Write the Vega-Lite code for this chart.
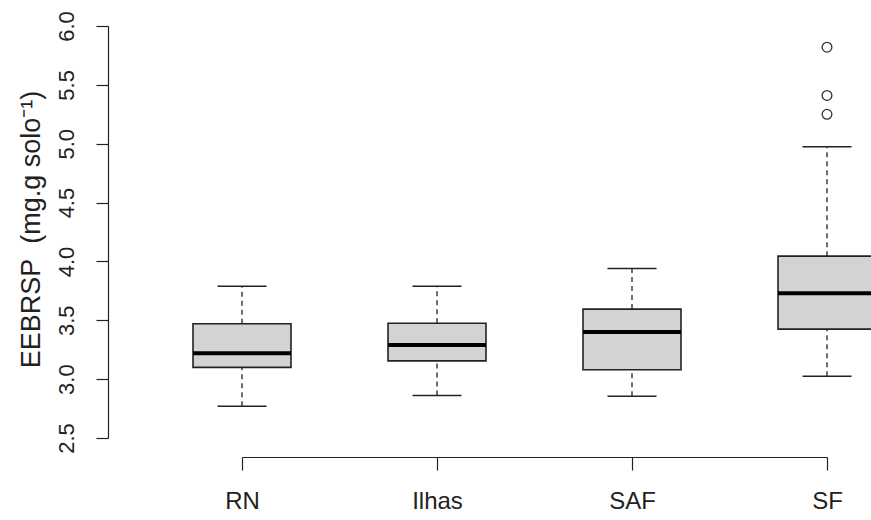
{
  "$schema": "https://vega.github.io/schema/vega-lite/v6.json",
  "width": 763,
  "height": 412,
  "autosize": "none",
  "padding": {"left": 108, "top": 26, "right": 0, "bottom": 82},
  "background": "white",
  "config": {
    "view": {"stroke": null},
    "font": "Liberation Sans",
    "axis": {"grid": false, "domainColor": "#222", "tickColor": "#222", "labelColor": "#222", "titleColor": "#222", "domainWidth": 1.2, "tickWidth": 1.2}
  },
  "datasets": {
    "stats": [
      {"group": "RN", "lower": 2.77, "q1": 3.10, "median": 3.22, "q3": 3.47, "upper": 3.79},
      {"group": "Ilhas", "lower": 2.86, "q1": 3.155, "median": 3.29, "q3": 3.475, "upper": 3.79},
      {"group": "SAF", "lower": 2.855, "q1": 3.08, "median": 3.40, "q3": 3.595, "upper": 3.94},
      {"group": "SF", "lower": 3.025, "q1": 3.425, "median": 3.73, "q3": 4.045, "upper": 4.975}
    ],
    "outliers": [
      {"group": "SF", "value": 5.25},
      {"group": "SF", "value": 5.41},
      {"group": "SF", "value": 5.82}
    ]
  },
  "layer": [
    {
      "data": {"name": "stats"},
      "mark": {"type": "rule", "color": "#222", "strokeWidth": 1.3, "strokeDash": [5, 4]},
      "encoding": {
        "x": {
          "field": "group", "type": "nominal", "sort": ["RN", "Ilhas", "SAF", "SF"],
          "scale": {"type": "point", "range": [134, 719], "padding": 0},
          "axis": {"title": null, "labelAngle": 0, "offset": 19, "tickSize": 13, "labelPadding": 19, "labelFontSize": 24}
        },
        "y": {
          "field": "lower", "type": "quantitative",
          "scale": {"domain": [2.5, 6.0], "nice": false, "zero": false},
          "axis": {
            "values": [2.5, 3.0, 3.5, 4.0, 4.5, 5.0, 5.5, 6.0], "format": ".1f",
            "labelAngle": -90, "labelAlign": "center", "labelBaseline": "middle",
            "tickSize": 12, "labelPadding": 30, "labelFontSize": 22,
            "title": "EEBRSP\u00a0\u00a0(mg.g solo⁻¹)", "titleFontSize": 27, "titleFontWeight": "normal",
            "titleX": -77, "titleY": 203, "titleAngle": -90, "titleAlign": "center", "titleBaseline": "middle"
          }
        },
        "y2": {"field": "q1"}
      }
    },
    {
      "data": {"name": "stats"},
      "mark": {"type": "rule", "color": "#222", "strokeWidth": 1.3, "strokeDash": [5, 4]},
      "encoding": {
        "x": {"field": "group", "type": "nominal", "sort": ["RN", "Ilhas", "SAF", "SF"]},
        "y": {"field": "q3", "type": "quantitative"},
        "y2": {"field": "upper"}
      }
    },
    {
      "data": {"name": "stats"},
      "mark": {"type": "tick", "color": "#222", "size": 49, "thickness": 1.5, "opacity": 1},
      "encoding": {
        "x": {"field": "group", "type": "nominal", "sort": ["RN", "Ilhas", "SAF", "SF"]},
        "y": {"field": "lower", "type": "quantitative"}
      }
    },
    {
      "data": {"name": "stats"},
      "mark": {"type": "tick", "color": "#222", "size": 49, "thickness": 1.5, "opacity": 1},
      "encoding": {
        "x": {"field": "group", "type": "nominal", "sort": ["RN", "Ilhas", "SAF", "SF"]},
        "y": {"field": "upper", "type": "quantitative"}
      }
    },
    {
      "data": {"name": "stats"},
      "mark": {"type": "bar", "width": 98, "fill": "#d3d3d3", "stroke": "#222", "strokeWidth": 1.6},
      "encoding": {
        "x": {"field": "group", "type": "nominal", "sort": ["RN", "Ilhas", "SAF", "SF"]},
        "y": {"field": "q1", "type": "quantitative"},
        "y2": {"field": "q3"}
      }
    },
    {
      "data": {"name": "stats"},
      "mark": {"type": "tick", "color": "#000", "size": 98, "thickness": 4, "opacity": 1},
      "encoding": {
        "x": {"field": "group", "type": "nominal", "sort": ["RN", "Ilhas", "SAF", "SF"]},
        "y": {"field": "median", "type": "quantitative"}
      }
    },
    {
      "data": {"name": "outliers"},
      "mark": {"type": "point", "shape": "circle", "filled": false, "size": 95, "stroke": "#333", "strokeWidth": 1.3, "opacity": 1},
      "encoding": {
        "x": {"field": "group", "type": "nominal", "sort": ["RN", "Ilhas", "SAF", "SF"]},
        "y": {"field": "value", "type": "quantitative"}
      }
    }
  ]
}
